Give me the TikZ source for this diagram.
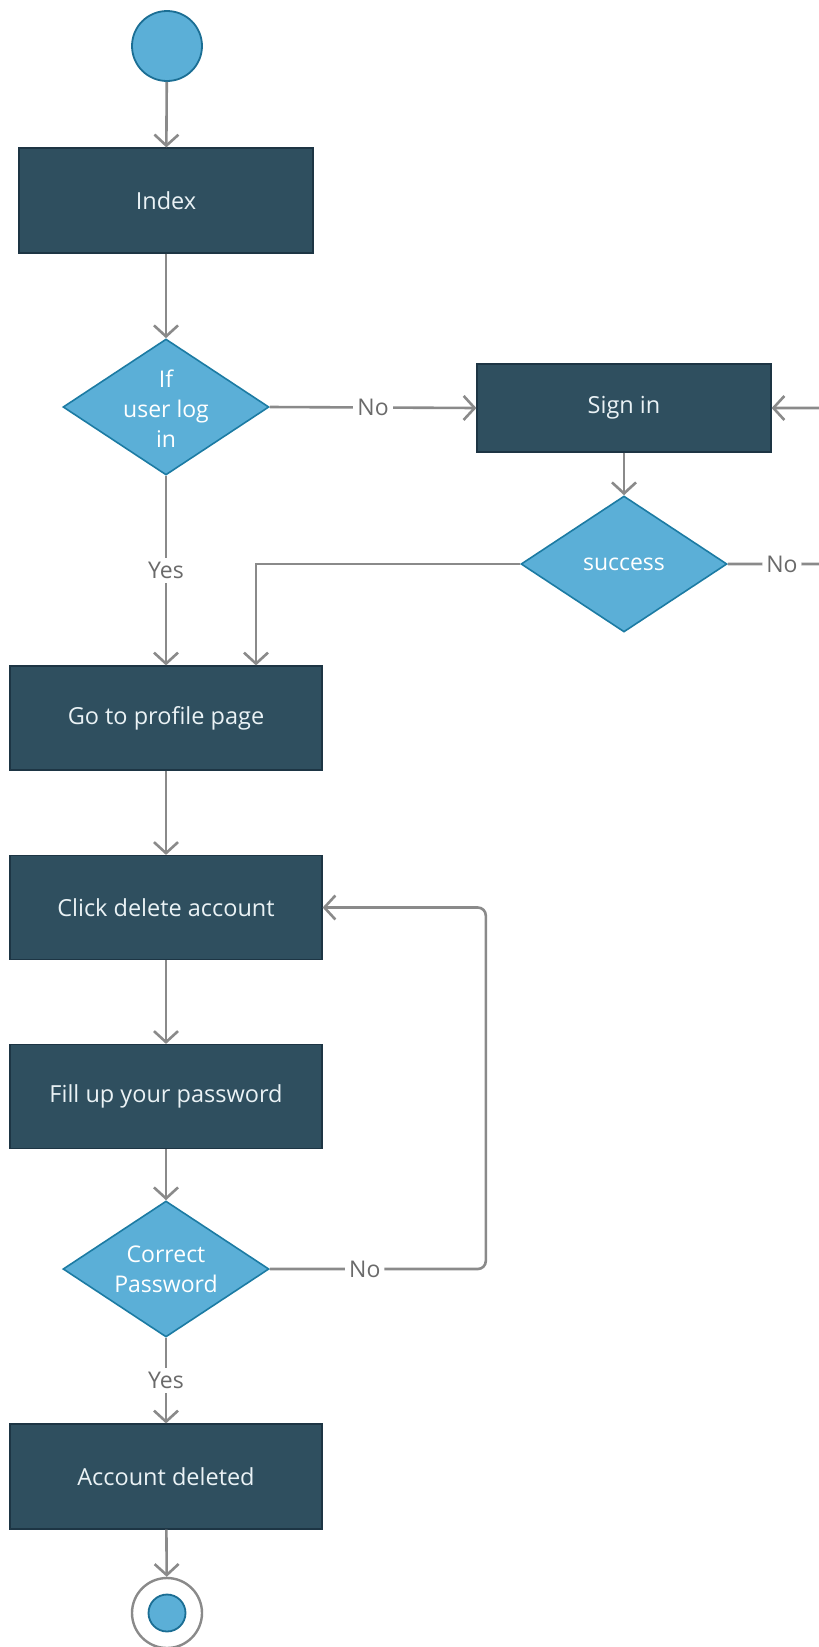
\documentclass[tikz,border=0pt]{standalone}
\usepackage{fontspec}
\setmainfont{Open Sans}
\usetikzlibrary{shapes.geometric,arrows.meta,positioning,calc}
\definecolor{boxfill}{HTML}{2F4F5F}
\definecolor{boxline}{HTML}{1D3544}
\definecolor{dfill}{HTML}{5BAFD7}
\definecolor{dline}{HTML}{1C7BA3}
\definecolor{cline}{HTML}{1B6E94}
\definecolor{arrowgray}{HTML}{8A8A8A}
\definecolor{lblgray}{HTML}{6A6A6A}
\definecolor{boxtext}{HTML}{EAF2F5}
\tikzset{
  stepbox/.style={draw=boxline, line width=1.2pt, fill=boxfill, text=boxtext,
    minimum width=312pt, minimum height=104pt, inner sep=0pt,
    font=\fontsize{23.5}{30}\selectfont},
  decision/.style={shape=diamond, draw=dline, line width=1.6pt, fill=dfill,
    minimum width=206pt, minimum height=136pt, inner sep=0pt, aspect=1.5},
  dtext/.style={text=white, align=center, font=\fontsize{23}{30}\selectfont, inner sep=0pt},
  arr/.style={draw=arrowgray, line width=2.6pt,
    -{Straight Barb[length=11pt, width=24pt, line width=2.6pt]}},
  lbl/.style={fill=white, text=lblgray, inner sep=4pt,
    font=\fontsize{23}{26}\selectfont},
}
\begin{document}
\begin{tikzpicture}[x=1pt, y=-1pt]
\useasboundingbox (0,0) rectangle (819,1647);
\clip (0,0) rectangle (819,1647);

% start
\node[circle, draw=cline, line width=1.8pt, fill=dfill, minimum size=70pt, inner sep=0pt] (start) at (167,46) {};

\node[stepbox, minimum width=294pt, minimum height=105pt] (index) at (166,200.5) {Index};

\node[decision, label={[dtext, yshift=-2pt]center:{If\\user log\\in}}] (login) at (166,407) {};

\node[stepbox, minimum width=294pt, minimum height=88pt] (signin) at (624,408) {Sign in};

\node[decision, label={[dtext]center:{success}}] (success) at (624,564) {};

\node[stepbox] (profile) at (166,718) {Go to profile page};
\node[stepbox] (click) at (166,907.5) {Click delete account};
\node[stepbox] (fill) at (166,1096.5) {Fill up your password};

\node[decision, label={[dtext]center:{Correct\\Password}}] (correct) at (166,1269) {};

\node[stepbox, minimum height=105pt] (deleted) at (166,1476.5) {Account deleted};

% end
\node[circle, draw=arrowgray, line width=2.4pt, fill=white, minimum size=70pt, inner sep=0pt] (endo) at (167,1613) {};
\node[circle, draw=cline, line width=1.8pt, fill=dfill, minimum size=37pt, inner sep=0pt] (endi) at (167,1613) {};

% connectors
\draw[arr] (start) -- (index);
\draw[arr] (index) -- (login);
\draw[arr] (login.east) -- node[lbl]{No} (signin.west);
\draw[arr] (signin) -- (success);
\draw[arr] (login.south) -- node[lbl]{Yes} (profile.north);
\draw[arr] (success.west) -| ([xshift=90pt]profile.north);
\draw[arr, rounded corners=12pt] (success.east) -- node[lbl, pos=0.52]{No} ++(104,0) |- (signin.east);
\draw[arr] (profile) -- (click);
\draw[arr] (click) -- (fill);
\draw[arr] (fill) -- (correct);
\draw[arr, rounded corners=8pt] (correct.east) -- node[lbl, pos=0.44]{No} ++(216,0) |- (click.east);
\draw[arr] (correct.south) -- node[lbl]{Yes} (deleted.north);
\draw[arr] (deleted) -- (endo);
\end{tikzpicture}
\end{document}
